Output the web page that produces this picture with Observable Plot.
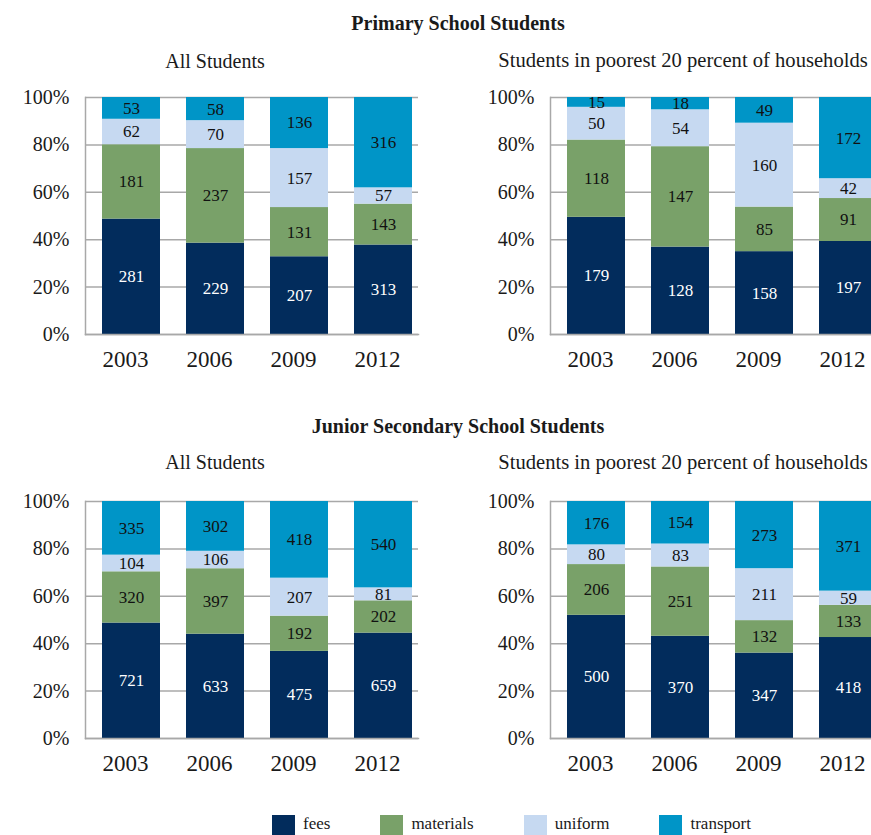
<!DOCTYPE html>
<html>
<head>
<meta charset="utf-8">
<script src="https://cdn.jsdelivr.net/npm/d3@7"></script>
<script src="https://cdn.jsdelivr.net/npm/@observablehq/plot@0.6"></script>
<style>
  html, body { margin: 0; padding: 0; background: #fff; }
  body { width: 871px; height: 835px; position: relative; overflow: hidden; font-family: "Liberation Serif", serif; color: #1a1a1a; }
  .t { position: absolute; text-align: center; line-height: 20px; font-size: 20px; white-space: nowrap; }
  .title { font-weight: bold; }
  .panel { position: absolute; }
  .panel svg { max-width: none !important; font-family: "Liberation Serif", serif !important; }
  .panel svg text { font-family: "Liberation Serif", serif !important; }
  #legend { position: absolute; left: 272px; top: 814px; display: flex; gap: 50px; font-size: 17px; line-height: 20px; }
  #legend .item { display: flex; align-items: flex-start; gap: 8px; }
  #legend .sw { width: 23px; height: 22px; margin-top: 1px; }
</style>
</head>
<body>
<div class="t title" style="left:0;width:916px;top:13px;">Primary School Students</div>
<div class="t" style="left:0;width:430px;top:51px;">All Students</div>
<div class="t" style="left:466px;width:434px;top:50px;font-size:20.6px;">Students in poorest 20 percent of households</div>
<div class="t title" style="left:0;width:916px;top:416px;">Junior Secondary School Students</div>
<div class="t" style="left:0;width:430px;top:452px;">All Students</div>
<div class="t" style="left:466px;width:434px;top:452px;font-size:20.6px;">Students in poorest 20 percent of households</div>
<div id="p1" class="panel" style="left:0;top:87px;"></div>
<div id="p2" class="panel" style="left:465px;top:87px;"></div>
<div id="p3" class="panel" style="left:0;top:491px;"></div>
<div id="p4" class="panel" style="left:465px;top:491px;"></div>
<div id="legend"></div>
<script>
const years = ["2003", "2006", "2009", "2012"];
const components = ["fees", "materials", "uniform", "transport"];
const colors = ["#022c5c", "#79a169", "#c6d9f1", "#0095c7"];
const yTicks = [0, 0.2, 0.4, 0.6, 0.8, 1];

// Primary school, all students
const primaryAllFees = [281, 229, 207, 313];
const primaryAllMaterials = [181, 237, 131, 143];
const primaryAllUniform = [62, 70, 157, 57];
const primaryAllTransport = [53, 58, 136, 316];

// Primary school, poorest 20 percent
const primaryPoorFees = [179, 128, 158, 197];
const primaryPoorMaterials = [118, 147, 85, 91];
const primaryPoorUniform = [50, 54, 160, 42];
const primaryPoorTransport = [15, 18, 49, 172];

// Junior secondary, all students
const juniorAllFees = [721, 633, 475, 659];
const juniorAllMaterials = [320, 397, 192, 202];
const juniorAllUniform = [104, 106, 207, 81];
const juniorAllTransport = [335, 302, 418, 540];

// Junior secondary, poorest 20 percent
const juniorPoorFees = [500, 370, 347, 418];
const juniorPoorMaterials = [206, 251, 132, 133];
const juniorPoorUniform = [80, 83, 211, 59];
const juniorPoorTransport = [176, 154, 273, 371];

function rows(series) {
  return components.flatMap((c, i) => years.map((y, j) => ({year: y, component: c, value: series[i][j]})));
}

function panel(series) {
  const data = rows(series);
  const gray = "#a8a8a8";
  const stackOpts = {offset: "normalize", x: "year", y: "value", z: "component"};
  return Plot.plot({
    width: 440,
    height: 292,
    marginTop: 10,
    marginBottom: 45,
    marginLeft: 85,
    marginRight: 22,
    style: {fontFamily: "'Liberation Serif', serif", background: "transparent", color: "#1a1a1a", overflow: "visible", maxWidth: "none"},
    x: {domain: years, range: [89, 425], paddingInner: 0.31, paddingOuter: 0.155, label: null},
    y: {domain: [0, 1], label: null},
    color: {domain: components, range: colors},
    marks: [
      Plot.gridY(yTicks, {stroke: gray, strokeOpacity: 1, strokeWidth: 1.5}),
      Plot.barY(data, Plot.stackY({...stackOpts, fill: "component"})),
      Plot.frame({anchor: "left", stroke: gray, strokeWidth: 1.5}),
      Plot.frame({anchor: "bottom", stroke: gray, strokeWidth: 1.5}),
      Plot.text(data, Plot.stackY({...stackOpts, text: d => d.component === "fees" ? String(d.value) : null, fill: "white", fontSize: 17})),
      Plot.text(data, Plot.stackY({...stackOpts, text: d => d.component !== "fees" ? String(d.value) : null, fill: "#111", fontSize: 17})),
      Plot.axisX({tickSize: 0, tickPadding: 16, fontSize: 23, dx: -6, label: null}),
      Plot.axisY({ticks: yTicks, tickFormat: d3.format(".0%"), tickSize: 0, tickPadding: 16, fontSize: 20, label: null})
    ]
  });
}

document.getElementById("p1").append(panel([primaryAllFees, primaryAllMaterials, primaryAllUniform, primaryAllTransport]));
document.getElementById("p2").append(panel([primaryPoorFees, primaryPoorMaterials, primaryPoorUniform, primaryPoorTransport]));
document.getElementById("p3").append(panel([juniorAllFees, juniorAllMaterials, juniorAllUniform, juniorAllTransport]));
document.getElementById("p4").append(panel([juniorPoorFees, juniorPoorMaterials, juniorPoorUniform, juniorPoorTransport]));

const legend = document.getElementById("legend");
components.forEach((c, i) => {
  const item = document.createElement("div");
  item.className = "item";
  const sw = document.createElement("div");
  sw.className = "sw";
  sw.style.background = colors[i];
  const lab = document.createElement("span");
  lab.textContent = c;
  item.append(sw, lab);
  legend.append(item);
});
</script>
</body>
</html>
